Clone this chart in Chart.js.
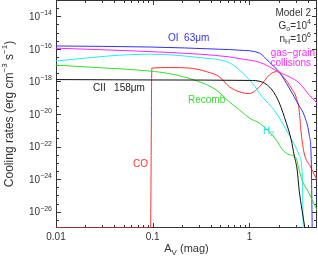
<!DOCTYPE html>
<html>
<head>
<meta charset="utf-8">
<script src="https://cdn.jsdelivr.net/npm/chart.js@4/dist/chart.umd.min.js"></script>
<style>
  html, body { margin: 0; padding: 0; background: #fff; }
  #wrap { width: 318px; height: 258px; }
</style>
</head>
<body>
<div id="wrap"><canvas id="coolChart"></canvas></div>
<script>
// A_V (mag) and cooling rate (erg cm^-3 s^-1) for each process
const avOI   = [0.01, 0.093, 0.49, 0.79, 1.27, 1.61, 2.04, 2.58, 3.27, 3.68, 4.16, 4.36, 4.46];
const rateOI = [1.5e-16, 1.3e-16, 9.5e-17, 8.3e-17, 5.5e-17, 1.5e-17, 3.7e-18, 3.9e-19, 3.2e-20, 8.5e-21, 5e-22, 1.6e-23, 1e-27];

const avGrain   = [0.01, 0.073, 0.305, 0.62, 0.79, 1.27, 2.04, 3.27, 4.16, 5.0];
const rateGrain = [1.1e-16, 7.2e-17, 4.7e-17, 3.2e-17, 2.5e-17, 1.5e-17, 3.7e-18, 8e-19, 1.45e-19, 4.7e-20];

const avH2   = [0.01, 0.046, 0.093, 0.305, 0.62, 0.79, 1.07, 1.36, 1.81, 2.58, 3.27, 3.52, 3.6];
const rateH2 = [1.8e-17, 4.1e-17, 4.7e-17, 2.9e-17, 1.4e-17, 4.9e-18, 7.9e-19, 1.1e-19, 1.7e-20, 5e-22, 3e-23, 1.8e-24, 1e-27];

const avRec   = [0.01, 0.028, 0.073, 0.15, 0.27, 0.44, 0.62, 0.79, 1.0, 1.27, 1.61, 1.9, 2.2, 2.58, 3.04, 3.2, 3.43, 4.16, 5.0];
const rateRec = [1e-17, 7e-18, 4.9e-18, 3e-18, 1.2e-18, 3.4e-19, 5.6e-20, 1.8e-20, 5.6e-21, 2.75e-21, 7.9e-22, 2.5e-22, 6.3e-23, 3.2e-23, 2e-23, 6.3e-24, 1.26e-24, 1.26e-25, 1.26e-26];

const avCII   = [0.01, 0.1, 1.0, 1.36, 1.72, 2.04, 2.41, 2.71, 2.9, 3.12, 3.27, 3.5, 3.75];
const rateCII = [1.3e-18, 1.23e-18, 1.15e-18, 9.1e-19, 2.95e-19, 4.7e-20, 2.75e-21, 2.5e-22, 3e-23, 3.6e-24, 2.1e-25, 1.26e-26, 1e-27];

const avCO   = [0.01, 0.095, 0.098, 0.15, 0.24, 0.36, 0.49, 0.62, 0.79, 1.0, 1.27, 1.61, 1.9, 2.3, 2.71, 3.04, 3.27, 3.43, 3.68, 4.3, 5.0];
const rateCO = [1e-27, 1e-27, 6.6e-18, 7.1e-18, 6.6e-18, 4e-18, 1.9e-18, 4.7e-19, 2.3e-19, 1.8e-19, 4.7e-19, 2.5e-18, 4e-18, 1.6e-18, 3.9e-19, 1.1e-19, 1.7e-20, 6.8e-22, 4e-23, 5.5e-24, 8.7e-25];

// axis ranges and tick labels
const xMin = 0.01, xMax = 5;
const yMin = 1e-27, yMax = 1e-13;
const xTickVals = [0.01, 0.1, 1];
const xTickText = ['0.01', '0.1', '1'];
const yTickExp = [-26, -24, -22, -20, -18, -16, -14];

function pts(xs, ys) {
  return xs.map((v, i) => ({ x: v, y: ys[i] }));
}

function line(label, xs, ys, color) {
  return {
    label: label,
    data: pts(xs, ys),
    borderColor: color,
    borderWidth: 1,
    pointRadius: 0,
    fill: false,
    cubicInterpolationMode: 'monotone'
  };
}

const FONT = '"Liberation Sans", Arial, sans-serif';

// draws text with raised / lowered pieces: parts = [[text, 'n'|'sup'|'sub'], ...]
function richText(ctx, parts, x, y, size, align) {
  let w = 0;
  parts.forEach(p => {
    ctx.font = (p[1] === 'n' ? size : Math.round(size * 0.7)) + 'px ' + FONT;
    w += ctx.measureText(p[0]).width;
  });
  let cx = align === 'right' ? x - w : align === 'center' ? x - w / 2 : x;
  ctx.textAlign = 'left';
  ctx.textBaseline = 'middle';
  parts.forEach(p => {
    let dy = 0;
    if (p[1] === 'sup') dy = -size * 0.4;
    if (p[1] === 'sub') dy = size * 0.3;
    ctx.font = (p[1] === 'n' ? size : Math.round(size * 0.7)) + 'px ' + FONT;
    ctx.fillText(p[0], cx, y + dy);
    cx += ctx.measureText(p[0]).width;
  });
}

const framePlugin = {
  id: 'frame',
  beforeDatasetsDraw(chart) {
    const { ctx, chartArea: a, scales: { x, y } } = chart;
    ctx.save();
    ctx.strokeStyle = '#333';
    ctx.lineWidth = 1;
    ctx.strokeRect(a.left + 0.5, a.top + 0.5, a.right - a.left - 1, a.bottom - a.top - 1);
    ctx.beginPath();
    // x ticks, bottom and top, pointing inwards
    for (let d = -2; d <= 0; d++) {
      for (let m = 1; m <= 9; m++) {
        const v = m * Math.pow(10, d);
        if (v <= xMin || v >= xMax) continue;
        const px = Math.round(x.getPixelForValue(v)) + 0.5;
        const len = m === 1 ? 5 : 3;
        ctx.moveTo(px, a.bottom); ctx.lineTo(px, a.bottom - len);
        ctx.moveTo(px, a.top); ctx.lineTo(px, a.top + len);
      }
    }
    // y ticks every half decade, left and right
    for (let e = -26.5; e <= -13.5; e += 0.5) {
      const py = Math.round(y.getPixelForValue(Math.pow(10, e))) + 0.5;
      const len = (e % 2 === 0) ? 5 : 3;
      ctx.moveTo(a.left, py); ctx.lineTo(a.left + len, py);
      ctx.moveTo(a.right, py); ctx.lineTo(a.right - len, py);
    }
    ctx.stroke();
    ctx.restore();
  },
  afterDraw(chart) {
    const { ctx, chartArea: a, scales: { x, y } } = chart;
    ctx.save();
    ctx.fillStyle = '#333';
    // tick labels
    ctx.font = '10px ' + FONT;
    ctx.textAlign = 'center';
    ctx.textBaseline = 'middle';
    xTickVals.forEach((v, i) => {
      ctx.fillText(xTickText[i], x.getPixelForValue(v), 237);
    });
    yTickExp.forEach(e => {
      richText(ctx, [['10', 'n'], ['\u2212' + Math.abs(e), 'sup']], 52, y.getPixelForValue(Math.pow(10, e)) + 1, 10, 'right');
    });
    // axis titles
    richText(ctx, [['A', 'n'], ['V', 'sub'], [' (mag)', 'n']], (a.left + a.right) / 2, 249, 11, 'center');
    ctx.translate(10, (a.top + a.bottom) / 2);
    ctx.rotate(-Math.PI / 2);
    richText(ctx, [['Cooling rates (erg cm', 'n'], ['\u22123', 'sup'], [' s', 'n'], ['\u22121', 'sup'], [')', 'n']], 0, 0, 12, 'center');
    ctx.setTransform(1, 0, 0, 1, 0, 0);
    // curve labels
    ctx.fillStyle = '#3232ff';
    richText(ctx, [['OI  63\u03bcm', 'n']], 168, 38, 10, 'left');
    ctx.fillStyle = '#222';
    richText(ctx, [['CII   158\u03bcm', 'n']], 93, 88, 10, 'left');
    ctx.fillStyle = '#30dd30';
    richText(ctx, [['Recomb', 'n']], 188, 100, 10, 'left');
    ctx.fillStyle = '#22e0e0';
    richText(ctx, [['H', 'n'], ['2', 'sub']], 263, 131, 10, 'left');
    ctx.fillStyle = '#ff3333';
    richText(ctx, [['CO', 'n']], 133, 164, 10, 'left');
    ctx.fillStyle = '#ff2aff';
    richText(ctx, [['gas\u2212grain', 'n']], 315, 53, 10, 'right');
    richText(ctx, [['collisions', 'n']], 311, 63, 10, 'right');
    ctx.fillStyle = '#333';
    richText(ctx, [['Model 2', 'n']], 311, 13, 10, 'right');
    richText(ctx, [['G', 'n'], ['o', 'sub'], ['=10', 'n'], ['4', 'sup']], 311, 26, 10, 'right');
    richText(ctx, [['n', 'n'], ['H', 'sub'], ['=10', 'n'], ['6', 'sup']], 311, 39, 10, 'right');
    ctx.restore();
  }
};

const ctx = document.getElementById('coolChart').getContext('2d');
const coolChart = new Chart(ctx, {
  type: 'line',
  data: {
    datasets: [
      line('CII 158um', avCII, rateCII, '#111111'),
      line('Recomb', avRec, rateRec, '#30e030'),
      line('H2', avH2, rateH2, '#22eeee'),
      line('gas-grain collisions', avGrain, rateGrain, '#ff22ff'),
      line('OI 63um', avOI, rateOI, '#3030ff'),
      line('CO', avCO, rateCO, '#ff3030')
    ]
  },
  options: {
    responsive: true,
    maintainAspectRatio: false,
    animation: false,
    layout: { padding: { left: 56, right: 1, top: 0, bottom: 30 } },
    plugins: { legend: { display: false }, tooltip: { enabled: false } },
    scales: {
      x: { type: 'logarithmic', min: xMin, max: xMax, display: false },
      y: { type: 'logarithmic', min: yMin, max: yMax, display: false }
    }
  },
  plugins: [framePlugin]
});
</script>
</body>
</html>
